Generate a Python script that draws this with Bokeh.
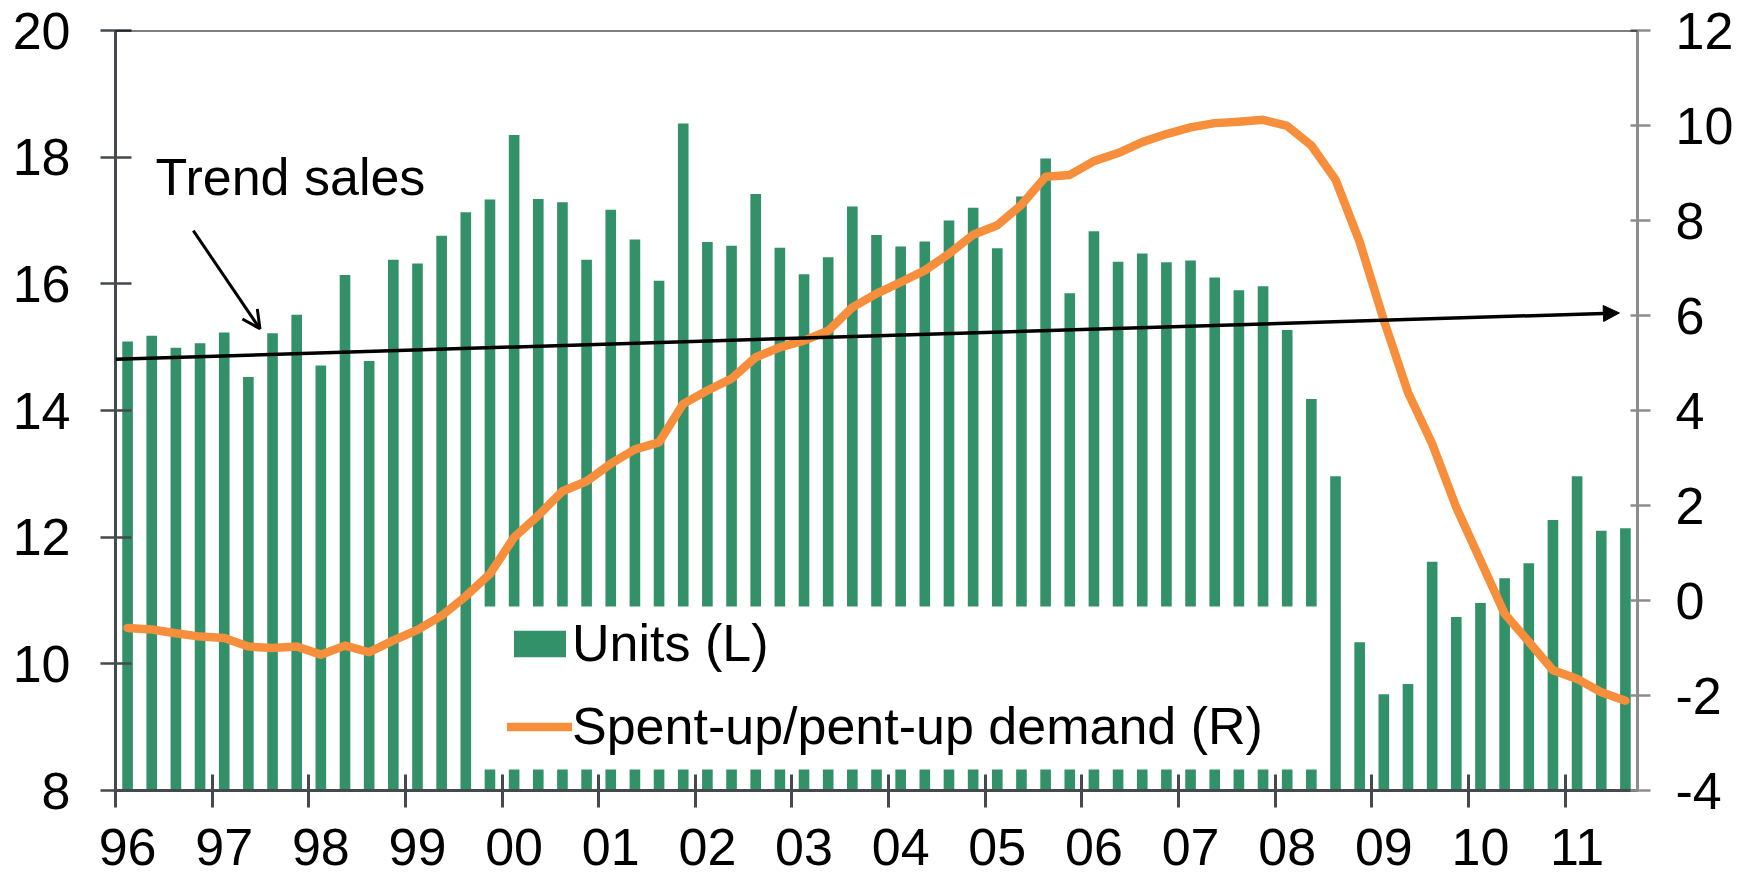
from bokeh.plotting import figure
from bokeh.models import (Range1d, LinearAxis, FixedTicker, Span, Arrow, NormalHead, OpenHead,
                          Label, Legend, LegendItem, BoxAnnotation, ColumnDataSource)
from bokeh.embed import file_html
from bokeh.resources import INLINE

# ---------------- data ----------------
years = ["96", "97", "98", "99", "00", "01", "02", "03",
         "04", "05", "06", "07", "08", "09", "10", "11"]
quarters = [f"{y}Q{q}" for y in years for q in range(1, 5)][:63]

units = [15.09, 15.18, 14.99, 15.06,
         15.23, 14.53, 15.22, 15.51,
         14.71, 16.14, 14.78, 16.38,
         16.32, 16.76, 17.13, 17.33,
         18.35, 17.34, 17.29, 16.38,
         17.17, 16.70, 16.05, 18.53,
         16.66, 16.60, 17.42, 16.57,
         16.15, 16.42, 17.22, 16.77,
         16.59, 16.67, 17.00, 17.20,
         16.56, 17.38, 17.98, 15.85,
         16.83, 16.35, 16.48, 16.34,
         16.37, 16.10, 15.90, 15.96,
         15.27, 14.18, 12.96, 10.34,
         9.52, 9.68, 11.61, 10.74,
         10.96, 11.35, 11.59, 12.27,
         12.96, 12.10, 12.14]

demand = [-0.58, -0.61, -0.69, -0.76,
          -0.79, -0.97, -1.00, -0.97,
          -1.14, -0.95, -1.09, -0.84,
          -0.62, -0.32, 0.09, 0.56,
          1.33, 1.79, 2.30, 2.51,
          2.88, 3.18, 3.33, 4.14,
          4.42, 4.67, 5.12, 5.33,
          5.47, 5.68, 6.17, 6.46,
          6.70, 6.95, 7.30, 7.70,
          7.90, 8.33, 8.92, 8.96,
          9.25, 9.42, 9.65, 9.82,
          9.96, 10.05, 10.08, 10.12,
          9.99, 9.58, 8.86, 7.55,
          5.90, 4.38, 3.30, 1.96,
          0.84, -0.28, -0.87, -1.47,
          -1.65, -1.93, -2.11]

left_ticks = [8, 10, 12, 14, 16, 18, 20]
right_ticks = [-4, -2, 0, 2, 4, 6, 8, 10, 12]

trend_start_value = 14.81   # trend sales at start of 1996
trend_end_value = 15.54     # trend sales at arrow tip (late 2011)

# ---------------- style ----------------
FONT = "Liberation Sans"
FS = "52px"
GREEN = "#33916A"
ORANGE = "#F68E3C"
DARK = "#45494d"
GREY = "#8c8c8c"

n = len(units)
xs = list(range(n))
src = ColumnDataSource(dict(x=xs, q=quarters, units=units, demand=demand))

p = figure(width=1759, height=877,
           x_range=Range1d(-0.5, n - 0.5), y_range=Range1d(left_ticks[0], left_ticks[-1]),
           output_backend="svg", toolbar_location=None,
           min_border_left=115, min_border_right=122, min_border_top=30, min_border_bottom=87)
p.extra_y_ranges = {"right": Range1d(right_ticks[0], right_ticks[-1])}
p.outline_line_color = None
p.background_fill_color = "white"
p.border_fill_color = "white"
p.xgrid.visible = False
p.ygrid.visible = False

# bars
bars = p.vbar(x="x", top="units", bottom=left_ticks[0], width=0.44, source=src,
              fill_color=GREEN, line_color=None)
# demand line
line = p.line(x="x", y="demand", source=src, y_range_name="right",
              line_color=ORANGE, line_width=8.5, line_join="round", line_cap="round")

# x axis: labels on each Q1 bar, tick marks at the year boundaries
label_pos = [4 * j for j in range(len(years))]
xa = p.xaxis[0]
xa.ticker = FixedTicker(ticks=label_pos, minor_ticks=[t - 0.5 for t in label_pos])
xa.major_label_overrides = {t: yl for t, yl in zip(label_pos, years)}
xa.major_tick_in = 0
xa.major_tick_out = 0
xa.minor_tick_in = 16
xa.minor_tick_out = 17
xa.minor_tick_line_color = DARK
xa.minor_tick_line_width = 3
xa.axis_line_color = DARK
xa.axis_line_width = 3
xa.major_label_text_font = FONT
xa.major_label_text_font_size = FS
xa.major_label_text_color = "black"
xa.major_label_standoff = 21

# left axis
ya = p.yaxis[0]
ya.ticker = FixedTicker(ticks=left_ticks)
ya.major_tick_in = 16
ya.major_tick_out = 15
ya.major_tick_line_color = DARK
ya.major_tick_line_width = 2.5
ya.minor_tick_line_color = None
ya.axis_line_color = DARK
ya.axis_line_width = 3
ya.major_label_text_font = FONT
ya.major_label_text_font_size = FS
ya.major_label_text_color = "black"
ya.major_label_standoff = 30

# right axis
ra = LinearAxis(y_range_name="right", ticker=FixedTicker(ticks=right_ticks),
                major_label_overrides={t: str(t) for t in right_ticks})
ra.major_tick_in = 7
ra.major_tick_out = 13
ra.major_tick_line_color = GREY
ra.major_tick_line_width = 2.5
ra.minor_tick_line_color = None
ra.axis_line_color = GREY
ra.axis_line_width = 3
ra.major_label_text_font = FONT
ra.major_label_text_font_size = FS
ra.major_label_text_color = "black"
ra.major_label_standoff = 25
p.add_layout(ra, "right")

# top border
p.add_layout(Span(location=left_ticks[-1], dimension="width", line_color="black", line_width=2))

# trend sales arrow
p.add_layout(Arrow(end=NormalHead(size=16, fill_color="black", line_color="black", line_width=1),
                   x_start=-0.5, y_start=trend_start_value, x_end=61.75, y_end=trend_end_value,
                   line_color="black", line_width=3.5))

# annotation
p.add_layout(Label(x=1.16, y=17.69, text="Trend sales", text_font=FONT, text_font_size=FS,
                   text_baseline="alphabetic", text_color="black"))
p.add_layout(Arrow(end=OpenHead(size=18, line_color="black", line_width=3),
                   x_start=2.72, y_start=16.84, x_end=5.48, y_end=15.29,
                   line_color="black", line_width=3))

# legend background box and legend
p.add_layout(BoxAnnotation(left=14.45, right=49.4, top=10.905, bottom=8.33,
                           fill_color="white", fill_alpha=1.0, line_color=None))
legend = Legend(items=[LegendItem(label="Units (L)", renderers=[bars]),
                       LegendItem(label="Spent-up/pent-up demand (R)", renderers=[line])],
                location=(392, 34), orientation="vertical", padding=0, margin=0,
                spacing=23, glyph_width=65, glyph_height=33, label_standoff=0,
                label_text_font=FONT, label_text_font_size=FS, label_text_color="black",
                background_fill_alpha=0, border_line_color=None)
p.add_layout(legend)

open("out.html", "w").write(file_html(p, INLINE))
